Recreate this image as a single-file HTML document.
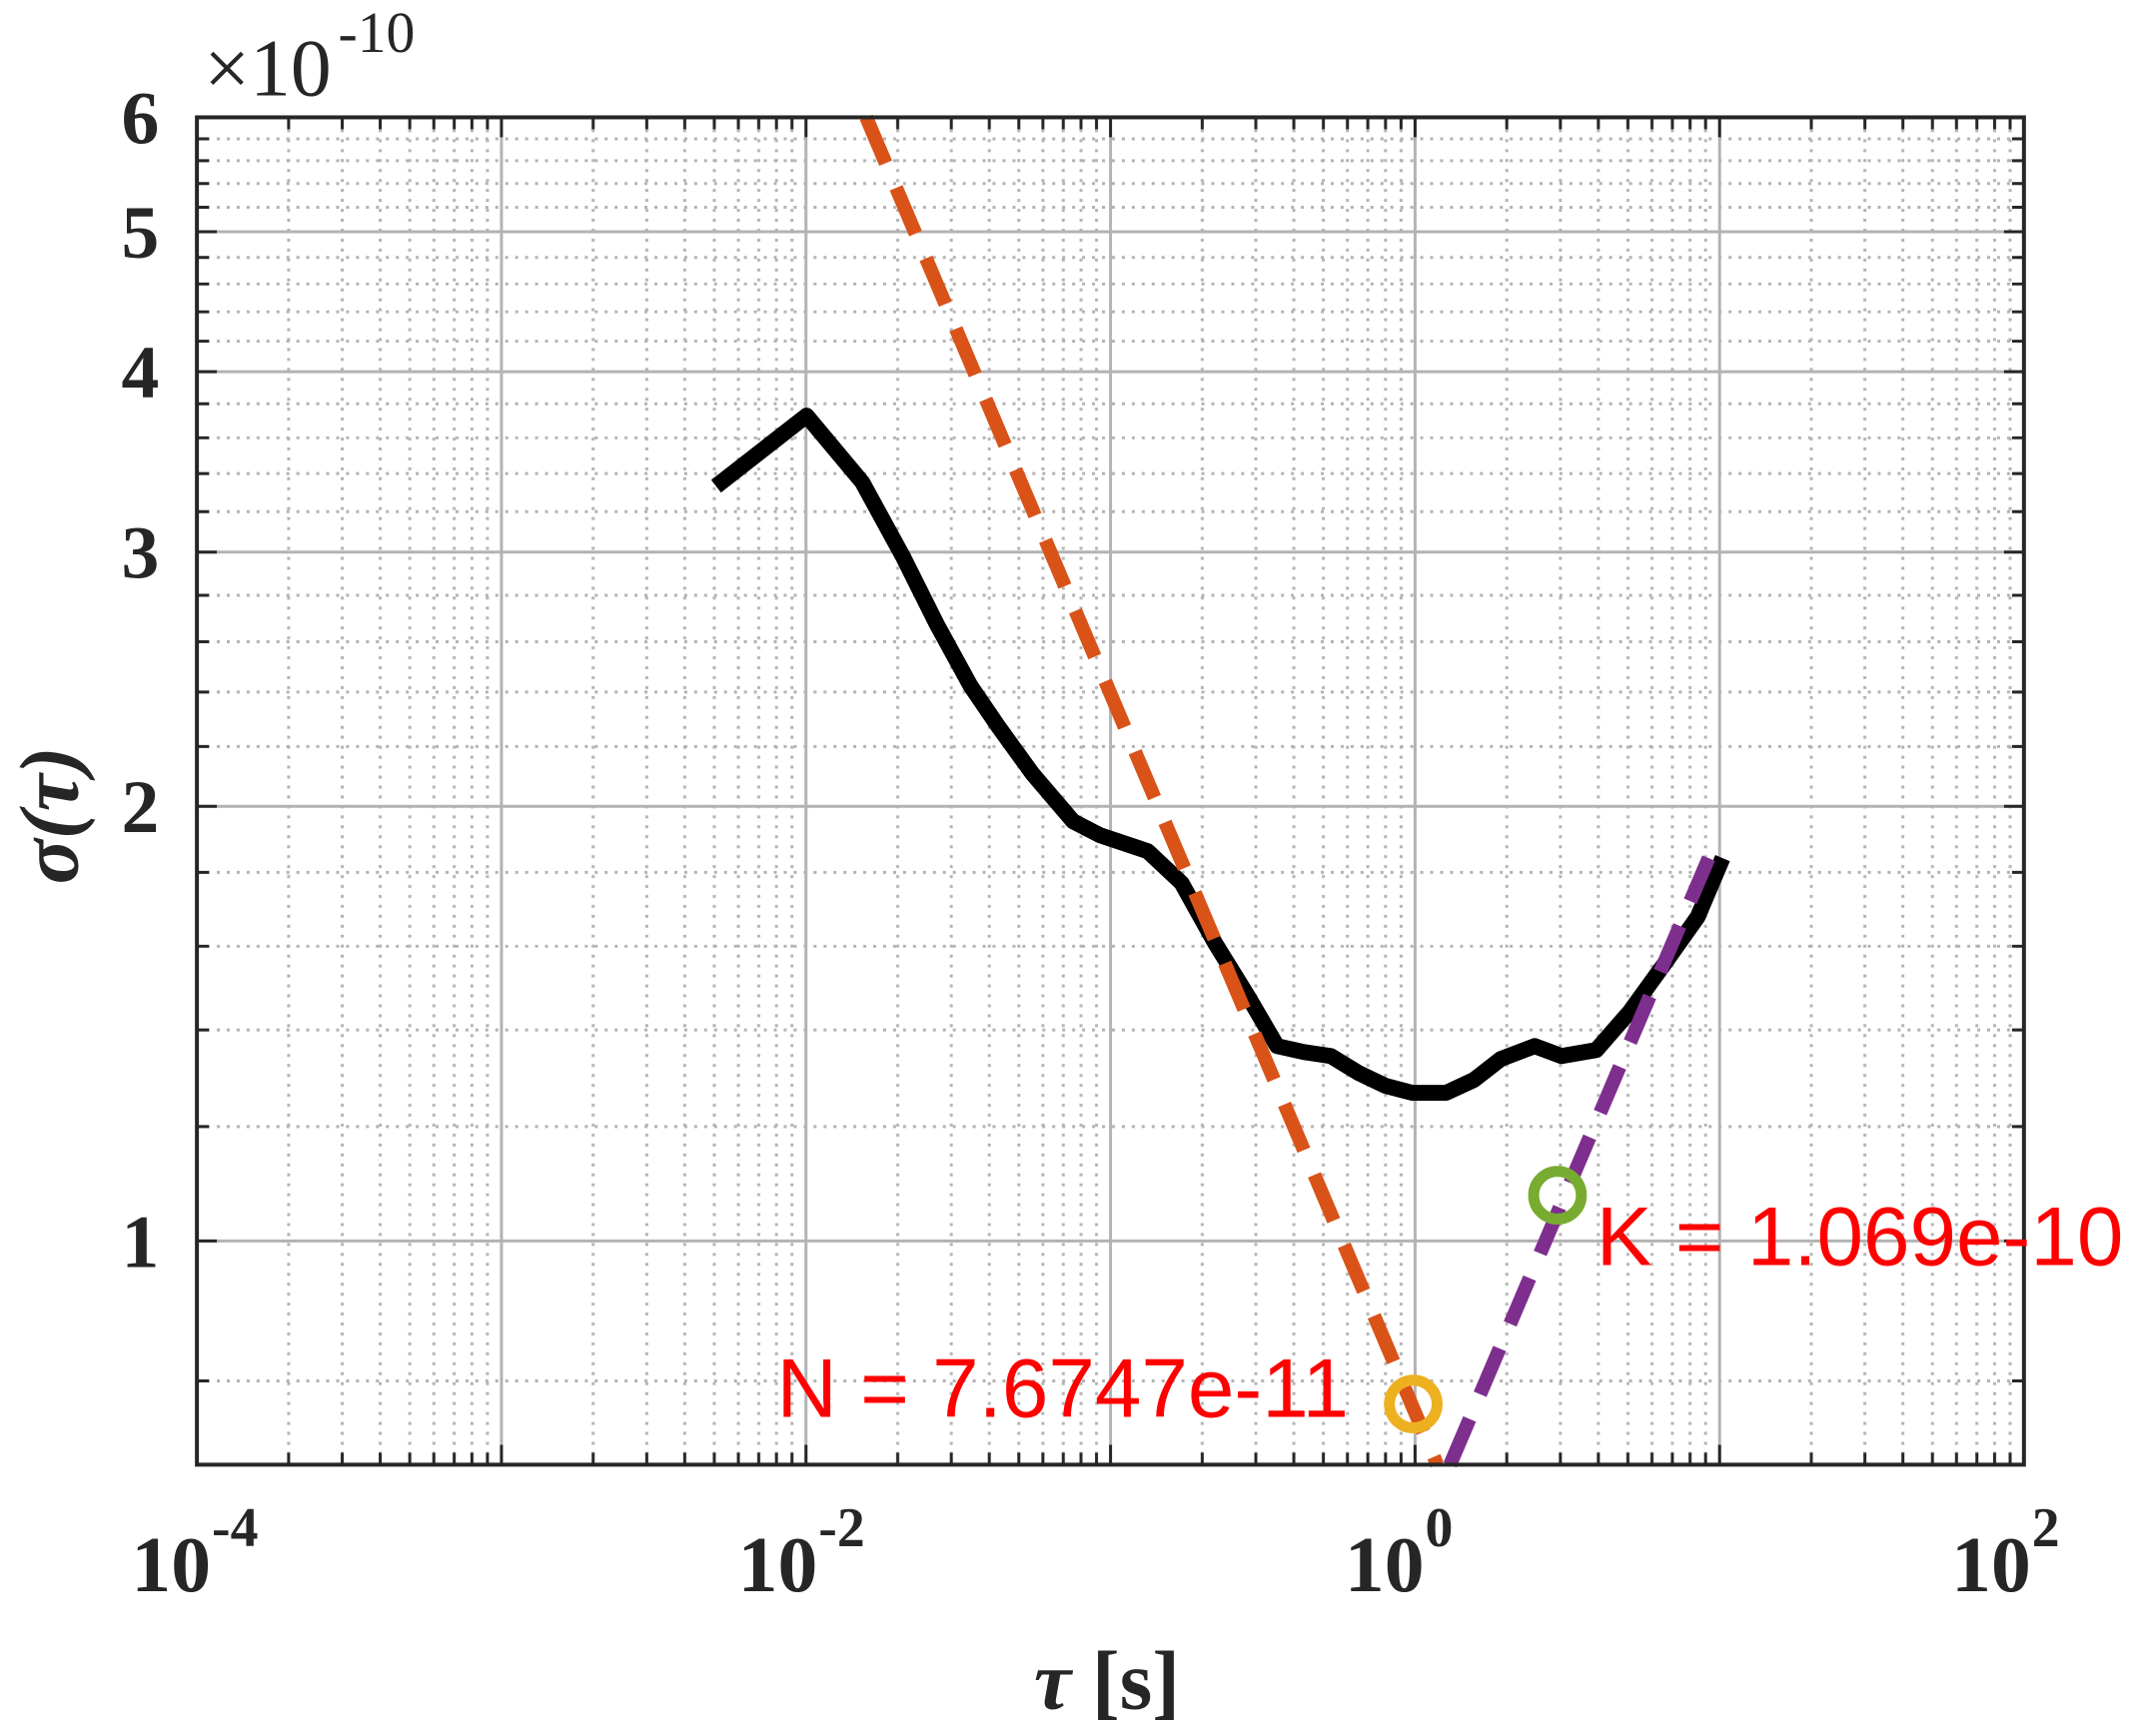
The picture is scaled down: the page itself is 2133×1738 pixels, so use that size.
<!DOCTYPE html>
<html><head><meta charset="utf-8"><style>
html,body{margin:0;padding:0;background:#fff;}
svg{display:block;}
</style></head><body>
<svg width="2133" height="1738" viewBox="0 0 2133 1738" xmlns="http://www.w3.org/2000/svg">
<defs>
<pattern id="xminor" patternUnits="userSpaceOnUse" x="198" y="0" width="306.2" height="1738">
 <g stroke="#b3b3b3" stroke-width="3" stroke-dasharray="3 7">
  <line x1="92.2" y1="0" x2="92.2" y2="1738"/><line x1="146.1" y1="0" x2="146.1" y2="1738"/>
  <line x1="184.3" y1="0" x2="184.3" y2="1738"/><line x1="214" y1="0" x2="214" y2="1738"/>
  <line x1="238.2" y1="0" x2="238.2" y2="1738"/><line x1="258.7" y1="0" x2="258.7" y2="1738"/>
  <line x1="276.5" y1="0" x2="276.5" y2="1738"/><line x1="292.1" y1="0" x2="292.1" y2="1738"/>
 </g>
</pattern>
<pattern id="xticks" patternUnits="userSpaceOnUse" x="198" y="0" width="306.2" height="1738">
 <g stroke="#262626" stroke-width="3">
  <line x1="92.2" y1="0" x2="92.2" y2="1738"/><line x1="146.1" y1="0" x2="146.1" y2="1738"/>
  <line x1="184.3" y1="0" x2="184.3" y2="1738"/><line x1="214" y1="0" x2="214" y2="1738"/>
  <line x1="238.2" y1="0" x2="238.2" y2="1738"/><line x1="258.7" y1="0" x2="258.7" y2="1738"/>
  <line x1="276.5" y1="0" x2="276.5" y2="1738"/><line x1="292.1" y1="0" x2="292.1" y2="1738"/>
 </g>
</pattern>
</defs>
<g transform="scale(0.9955)">
<rect x="198" y="118" width="1837" height="1355" fill="url(#xminor)"/>
<g stroke="#b3b3b3" stroke-width="3" stroke-dasharray="3 7">
<line x1="198" x2="2035" y1="1388.7" y2="1388.7"/><line x1="198" x2="2035" y1="1133" y2="1133"/>
<line x1="198" x2="2035" y1="1035.8" y2="1035.8"/><line x1="198" x2="2035" y1="951.6" y2="951.6"/>
<line x1="198" x2="2035" y1="877.3" y2="877.3"/><line x1="198" x2="2035" y1="750.8" y2="750.8"/>
<line x1="198" x2="2035" y1="696" y2="696"/><line x1="198" x2="2035" y1="645.4" y2="645.4"/>
<line x1="198" x2="2035" y1="598.7" y2="598.7"/><line x1="198" x2="2035" y1="514.6" y2="514.6"/>
<line x1="198" x2="2035" y1="476.3" y2="476.3"/><line x1="198" x2="2035" y1="440.3" y2="440.3"/>
<line x1="198" x2="2035" y1="406.1" y2="406.1"/><line x1="198" x2="2035" y1="343.1" y2="343.1"/>
<line x1="198" x2="2035" y1="313.6" y2="313.6"/><line x1="198" x2="2035" y1="285.6" y2="285.6"/>
<line x1="198" x2="2035" y1="258.9" y2="258.9"/><line x1="198" x2="2035" y1="208.4" y2="208.4"/>
<line x1="198" x2="2035" y1="184.6" y2="184.6"/><line x1="198" x2="2035" y1="161.6" y2="161.6"/>
<line x1="198" x2="2035" y1="139.6" y2="139.6"/>
</g>
<g stroke="#b3b3b3" stroke-width="3">
<line x1="504.2" x2="504.2" y1="118" y2="1473"/><line x1="810.4" x2="810.4" y1="118" y2="1473"/>
<line x1="1116.6" x2="1116.6" y1="118" y2="1473"/><line x1="1422.8" x2="1422.8" y1="118" y2="1473"/>
<line x1="1729" x2="1729" y1="118" y2="1473"/>
<line x1="198" x2="2035" y1="1248" y2="1248"/><line x1="198" x2="2035" y1="810.9" y2="810.9"/>
<line x1="198" x2="2035" y1="555.2" y2="555.2"/><line x1="198" x2="2035" y1="373.8" y2="373.8"/>
<line x1="198" x2="2035" y1="233.1" y2="233.1"/>
</g>
<rect x="198" y="1461" width="1837" height="12" fill="url(#xticks)"/>
<rect x="198" y="118" width="1837" height="12" fill="url(#xticks)"/>
<g stroke="#262626" stroke-width="3">
<path d="M504.2 1473v-20M810.4 1473v-20M1116.6 1473v-20M1422.8 1473v-20M1729 1473v-20M504.2 118v20M810.4 118v20M1116.6 118v20M1422.8 118v20M1729 118v20"/>
<path d="M198 1388.7h12M198 1133h12M198 1035.8h12M198 951.6h12M198 877.3h12M198 750.8h12M198 696h12M198 645.4h12M198 598.7h12M198 514.6h12M198 476.3h12M198 440.3h12M198 406.1h12M198 343.1h12M198 313.6h12M198 285.6h12M198 258.9h12M198 208.4h12M198 184.6h12M198 161.6h12M198 139.6h12"/>
<path d="M2035 1388.7h-12M2035 1133h-12M2035 1035.8h-12M2035 951.6h-12M2035 877.3h-12M2035 750.8h-12M2035 696h-12M2035 645.4h-12M2035 598.7h-12M2035 514.6h-12M2035 476.3h-12M2035 440.3h-12M2035 406.1h-12M2035 343.1h-12M2035 313.6h-12M2035 285.6h-12M2035 258.9h-12M2035 208.4h-12M2035 184.6h-12M2035 161.6h-12M2035 139.6h-12"/>
<path d="M198 1248h20M198 810.9h20M198 555.2h20M198 373.8h20M198 233.1h20M2035 1248h-20M2035 810.9h-20M2035 555.2h-20M2035 373.8h-20M2035 233.1h-20"/>
</g>
<polyline fill="none" stroke="#000" stroke-width="16" stroke-linejoin="round"
 points="720,489 811,418 867,485 908,560 942,628 976,690 1004,731 1038,778 1079,826 1106,840 1154,856 1188,888 1222,949 1256,1004 1284,1052 1311,1058 1338,1062 1366,1079 1393,1092 1420,1099 1454,1099 1482,1086 1509,1065 1543,1052 1570,1062 1605,1056 1639,1017 1673,970 1707,922 1732,863"/>
<line x1="871" y1="118" x2="1445" y2="1473" stroke="#d95319" stroke-width="14" stroke-dasharray="50 27"/>
<line x1="1458" y1="1473" x2="1718" y2="863" stroke="#7e2f8e" stroke-width="14" stroke-dasharray="50 27"/>
<circle cx="1421" cy="1412" r="24" fill="none" stroke="#edb120" stroke-width="11"/>
<circle cx="1566" cy="1202" r="24" fill="none" stroke="#77ac30" stroke-width="11"/>
<rect x="198" y="118" width="1837" height="1355" fill="none" stroke="#262626" stroke-width="4"/>
<g font-family="'Liberation Sans',sans-serif" font-size="84" fill="#ff0000">
<text x="781" y="1425">N = 7.6747e-11</text>
<text x="1605" y="1272">K = 1.069e-10</text>
</g>
<g font-family="'Liberation Serif',serif" font-weight="bold" font-size="76" fill="#262626" text-anchor="end">
<text x="160" y="1274">1</text>
<text x="160" y="837">2</text>
<text x="160" y="581">3</text>
<text x="160" y="400">4</text>
<text x="160" y="259">5</text>
<text x="160" y="144">6</text>
</g>
<g font-family="'Liberation Serif',serif" font-weight="bold" font-size="80" fill="#262626" text-anchor="end">
<text x="212" y="1600">10</text><text x="822" y="1600">10</text><text x="1432" y="1600">10</text><text x="2042" y="1600">10</text>
</g>
<g font-family="'Liberation Serif',serif" font-weight="bold" font-size="56" fill="#262626">
<text x="213" y="1555">-4</text><text x="823" y="1555">-2</text><text x="1433" y="1555">0</text><text x="2043" y="1555">2</text>
</g>
<text x="205" y="96" font-family="'Liberation Serif',serif" font-size="82" fill="#262626">×10</text>
<text x="340" y="52" font-family="'Liberation Serif',serif" font-size="58" fill="#262626">-10</text>
<text x="1113" y="1718" text-anchor="middle" font-family="'Liberation Serif',serif" font-weight="bold" font-size="84" fill="#262626"><tspan font-style="italic">τ</tspan> [s]</text>
<text transform="translate(78,820) rotate(-90)" text-anchor="middle" font-family="'Liberation Serif',serif" font-weight="bold" font-style="italic" font-size="84" fill="#262626">σ(τ)</text>
</g>
</svg>
</body></html>
